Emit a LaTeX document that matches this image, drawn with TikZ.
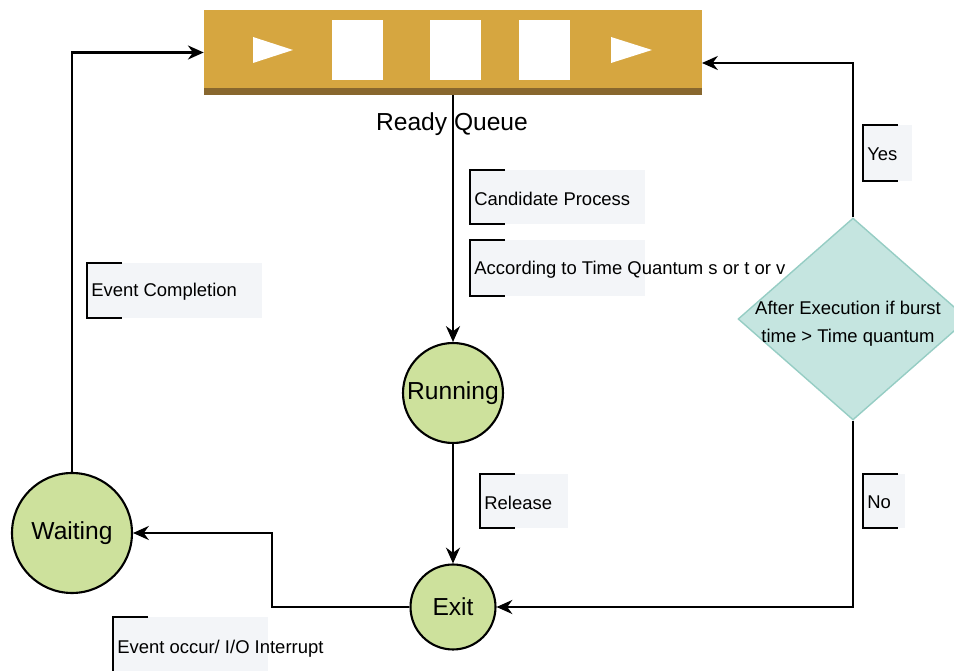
\documentclass[tikz,border=0pt]{standalone}
\usepackage{fontspec}
\setmainfont{Liberation Sans}
\usetikzlibrary{arrows.meta,shapes.geometric}

\definecolor{queuefill}{RGB}{214,166,64}
\definecolor{queuedark}{RGB}{136,103,46}
\definecolor{statefill}{RGB}{205,225,156}
\definecolor{decfill}{RGB}{197,229,224}
\definecolor{decline}{RGB}{150,205,196}
\definecolor{notefill}{RGB}{243,245,248}

\tikzset{
  arr/.style={draw, line width=1.2pt, -{Stealth[length=9pt,width=8pt]}},
  state/.style={circle, draw, line width=1.2pt, fill=statefill, inner sep=0pt,
    font=\fontsize{14}{16}\selectfont},
  decision/.style={diamond, draw=decline, line width=0.8pt, fill=decfill,
    minimum width=4.6cm, minimum height=4.04cm, inner sep=0pt},
  bracket/.style={line width=1.2pt},
  notetext/.style={inner sep=0pt, font=\fontsize{10.5}{12}\selectfont}
}

% annotation: name, x, top y, width, height, text
\newcommand{\annot}[6]{%
  \fill[notefill] (#2,#3) rectangle ++(#4,#5);
  \draw[bracket] (#2+35,#3) -- (#2,#3) -- (#2,#3+#5) -- (#2+35,#3+#5);
  \node[notetext, anchor=west] (#1) at (#2+4,#3+#5/2+1.5) {#6};
}

\begin{document}
\begin{tikzpicture}[x=0.02cm,y=-0.02cm]
  \useasboundingbox (0,0) rectangle (954,671);

  % ready queue
  \node[fill=queuefill, minimum width=9.96cm, minimum height=1.7cm, inner sep=0pt]
    (queue) at (453,52.5) {};
  \fill[queuedark] (204,88) rectangle (702,95);
  \fill[white] (253,37) -- (293,50) -- (253,63) -- cycle;
  \fill[white] (611,37) -- (652,50) -- (611,63) -- cycle;
  \foreach \x in {332,430,519} {
    \fill[white] (\x,20) rectangle (\x+51,80);
  }
  \node[font=\fontsize{14}{16}\selectfont] (qlabel) at (452,124) {Ready Queue};

  % states
  \node[state, minimum size=2cm] (run) at (453,393) {Running};
  \node[state, minimum size=1.7cm] (exit) at (453,607) {Exit};
  \node[state, minimum size=2.4cm] (wait) at (72,533) {Waiting};

  % decision
  \node[decision] (dec) at (853,319) {};
  \node[align=center, font=\fontsize{10.5}{16}\selectfont] (dectext) at (848,324)
    {After Execution if burst\\time > Time quantum};

  % connectors
  \coordinate (qright) at (702,63);
  \coordinate (turn) at (272,533);
  \draw[arr] (queue) -- (run);
  \draw[arr] (run) -- (exit);
  \draw[arr] (wait.north) |- (queue.west);
  \draw[arr] (dec.north) |- (qright);
  \draw[arr] (dec.south) |- (exit.east);
  \draw[arr] (exit.west) -| (turn) -- (wait.east);

  % annotations
  \annot{cand}{470}{170}{175}{54}{Candidate Process}
  \annot{quant}{470}{240}{175}{56}{According to Time Quantum s or t or v}
  \annot{evdone}{87}{263}{175}{55}{Event Completion}
  \annot{rel}{480}{474}{88}{54}{Release}
  \annot{yes}{863}{125}{49}{56}{Yes}
  \annot{no}{863}{474}{42}{54}{No}
  \annot{evio}{113}{617}{155}{60}{Event occur/ I/O Interrupt}
\end{tikzpicture}
\end{document}
